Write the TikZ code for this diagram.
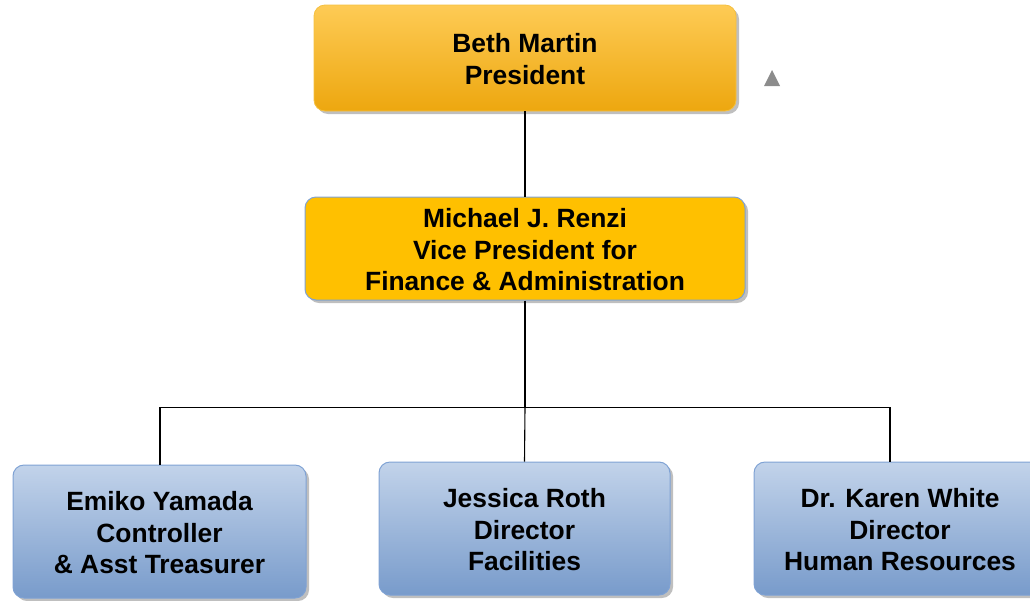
\documentclass[tikz,border=0pt]{standalone}
\usepackage{fontspec}
\setmainfont{Liberation Sans}
\usetikzlibrary{shadows}
\definecolor{goldtop}{HTML}{FECB55}
\definecolor{goldbot}{HTML}{EDA70F}
\definecolor{vpfill}{HTML}{FFC000}
\definecolor{bluetop}{HTML}{C2D3EA}
\definecolor{bluebot}{HTML}{789BCB}
\definecolor{boxedge}{HTML}{7FA2D4}
\definecolor{goldedge}{HTML}{F5C040}
\begin{document}
\begin{tikzpicture}[x=1pt,y=-1pt,
  every node/.style={font=\fontsize{26.4}{31.5}\selectfont\bfseries, align=center, inner sep=0pt},
  card/.style={rounded corners=11pt, drop shadow={shadow xshift=3pt, shadow yshift=-3pt, opacity=0.25, fill=black}},
  presbox/.style={card, draw=goldedge, line width=0.8pt, top color=goldtop, bottom color=goldbot},
  vpbox/.style={card, draw=boxedge, line width=1pt, fill=vpfill},
  staffbox/.style={card, draw=boxedge, line width=1pt, top color=bluetop, bottom color=bluebot},
  link/.style={draw=black, line width=1.1pt}]
\useasboundingbox (0,0) rectangle (1030,600);
\begin{scope}
\clip (0,0) rectangle (1030,600);
\node[presbox, minimum width=422pt, minimum height=106pt] (pres) at (525,58) {};
\node at (525,59) {Beth Martin\\President};
\node[vpbox, minimum width=440pt, minimum height=103pt] (vp) at (525,248.5) {};
\node at (525,250) {Michael J. Renzi\\Vice President for\\Finance \& Administration};
\node[staffbox, minimum width=293pt, minimum height=133pt] (ctrl) at (159.5,531.5) {};
\node at (159.5,533) {Emiko Yamada\\Controller\\\& Asst Treasurer};
\node[staffbox, minimum width=291pt, minimum height=133pt] (fac) at (524.5,528.5) {};
\node at (524.5,530) {Jessica Roth\\Director\\Facilities};
\node[staffbox, minimum width=292pt, minimum height=133pt] (hr) at (900,528.5) {};
\node at (900,530) {Dr. Karen White\\Director\\Human Resources};
\end{scope}
\coordinate (bus) at (525,407.5);
\fill[gray!90] (764,86) -- (780,86) -- (772,70) -- cycle;
\draw[link] (pres.south) -- (vp.north);
\draw[link] (vp.south) -- (bus);
\draw[link] (ctrl.north -| 160,0) |- (bus) -| (hr.north -| 890,0);
\draw[link] (bus) -- (fac.north);
\end{tikzpicture}
\end{document}
